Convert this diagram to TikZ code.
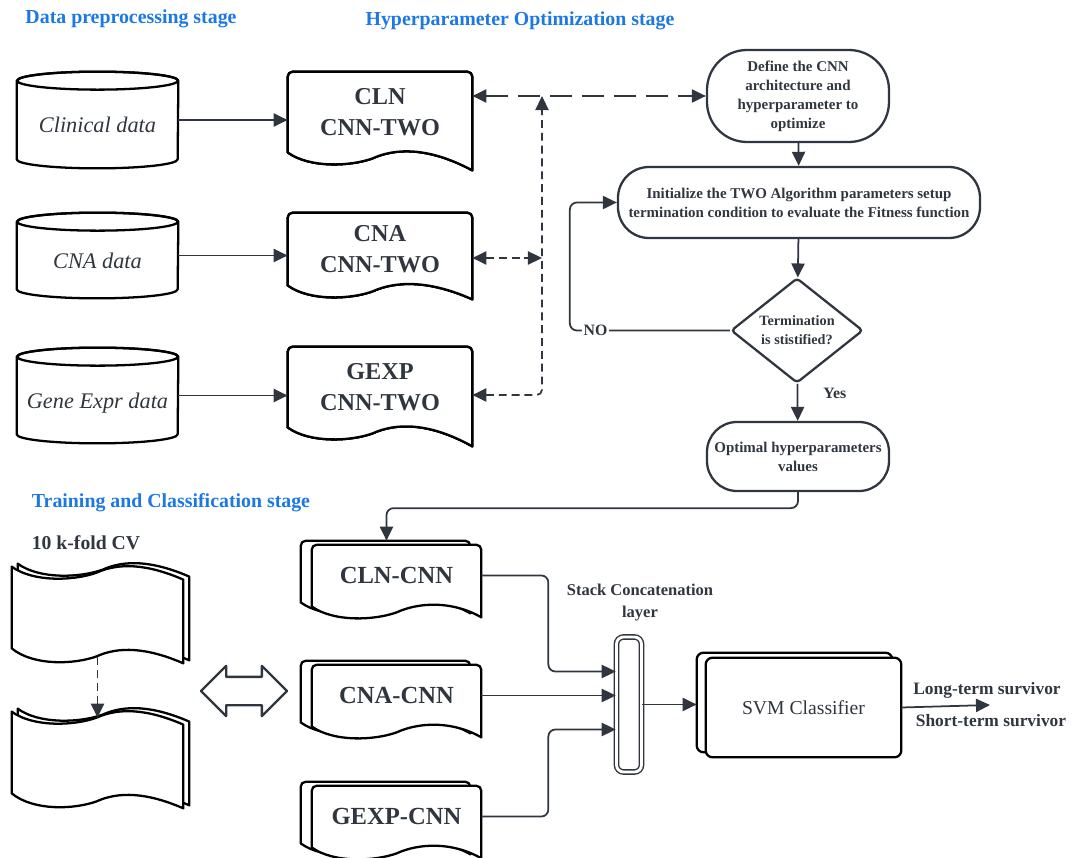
\documentclass[tikz,border=0pt]{standalone}
\usepackage{fontspec}
\setmainfont{Liberation Serif}
\usetikzlibrary{positioning,calc,shapes.geometric,shapes.arrows,arrows.meta}

\definecolor{inkgray}{RGB}{48,54,63}
\definecolor{stageblue}{RGB}{28,120,228}

\newcommand{\pxu}{0.02cm}
\newcommand{\fs}[2]{\fontsize{#1}{#2}\selectfont}

\pgfdeclarelayer{background}
\pgfsetlayers{background,main}

\tikzstyle{stage} = [text=stageblue, font=\fs{11.3}{13}\bfseries, inner sep=0pt]
\tikzstyle{drumbox} = [minimum width=161*\pxu, inner sep=0pt, text height=0.52cm, text depth=0pt, font=\fs{12.7}{15}\itshape]
\tikzstyle{paper} = [minimum width=184*\pxu, inner sep=0pt, align=center, font=\fs{13.8}{17.6}\bfseries]
\tikzstyle{paperstack} = [minimum width=169*\pxu, minimum height=61*\pxu, inner sep=0pt, font=\fs{14}{17}\bfseries]
\tikzstyle{foldsheet} = [minimum width=171*\pxu, minimum height=81*\pxu, inner sep=0pt]
\tikzstyle{terminal} = [draw, line width=1.3pt, rounded corners=#1, inner sep=0pt, align=center, font=\fs{8.5}{10.8}\bfseries]
\tikzstyle{decision} = [draw, diamond, line width=1.3pt, rounded corners=2pt, aspect=1.26, minimum width=132*\pxu, minimum height=105*\pxu, inner sep=0pt, align=center, font=\fs{8.1}{10.8}\bfseries]
\tikzstyle{shapeline} = [line width=1.3pt, fill=white, line join=round]
\tikzstyle{flow} = [line width=1pt, -{Triangle[length=8pt,width=7.5pt]}]
\tikzstyle{dashflow} = [line width=1pt, {Triangle[length=8pt,width=7.5pt]}-{Triangle[length=8pt,width=7.5pt]}, dash pattern=on 4.5pt off 2.8pt]
\tikzstyle{smalllabel} = [inner sep=0pt, font=\fs{9.9}{12}\bfseries]

% cylinder drawn round a node
\newcommand{\drum}[1]{%
  \draw[shapeline] ($(#1.north west)+(0,9)$) -- ($(#1.south west)+(0,-9)$)
    arc[start angle=180, end angle=360, x radius=80.5*\pxu, y radius=9*\pxu]
    -- ($(#1.north east)+(0,9)$)
    arc[start angle=0, end angle=180, x radius=80.5*\pxu, y radius=9*\pxu] -- cycle;
  \draw[shapeline, fill=none] ($(#1.north)+(0,9)$) ellipse[x radius=80.5*\pxu, y radius=9*\pxu];
}
% document with wavy bottom edge
\newcommand{\paperpath}[2]{(#1.south west) [rounded corners=3pt] -- (#1.north west) -- (#1.north east) [sharp corners] -- ($(#1.south east)+(0,#2)$)
    .. controls ($(#1.south west)+(140,-6)$) and ($(#1.south west)+(107,-4)$) .. ($(#1.south west)+(85,6)$)
    .. controls ($(#1.south west)+(63,14)$) and ($(#1.south west)+(22,16)$) .. (#1.south west) -- cycle}
% folded sheet with wavy top and bottom
\newcommand{\tapepath}[1]{(#1.north west)
    .. controls ($(#1.north west)+(22,16)$) and ($(#1.north west)+(63,14)$) .. ($(#1.north west)+(85,6)$)
    .. controls ($(#1.north west)+(107,-4)$) and ($(#1.north west)+(135,-3)$) .. ($(#1.north east)+(0,13)$)
    -- ($(#1.south east)+(0,15)$)
    .. controls ($(#1.south west)+(135,-1)$) and ($(#1.south west)+(107,-2)$) .. ($(#1.south west)+(85,8)$)
    .. controls ($(#1.south west)+(63,16)$) and ($(#1.south west)+(22,18)$) .. (#1.south west) -- cycle}

\begin{document}
\begin{tikzpicture}[x=\pxu, y=-\pxu, color=inkgray]
    \useasboundingbox (0,0) rectangle (1073,858);

    % stage titles
    \node[stage] (prep) at (131,19) {Data preprocessing stage};
    \node[stage] (hyper) at (520,21) {Hyperparameter Optimization stage};
    \node[stage] (train) at (171,503) {Training and Classification stage};
    \node[inner sep=0pt, font=\fs{11.2}{13}\bfseries] (kfold) at (86,543) {10 k-fold CV};

    % data sources and their CNN-TWO models
    \foreach \name/\ypos/\hgt/\label in {clin/120/96/Clinical data, cna/255.5/85/CNA data, gexp/395.5/95/Gene Expr data}
        \node[drumbox, minimum height=\hgt*\pxu] (\name) at (97.5,\ypos) {\label};
    \foreach \name/\ypos/\hgt/\first in {cln2/112/80/CLN, cna2/249/72/CNA, gexp2/387/80/GEXP}
        \node[paper, minimum height=\hgt*\pxu] (\name) at (380,\ypos) {\first\\CNN-TWO};

    % optimization loop
    \node[terminal=0.8cm, minimum width=182*\pxu, minimum height=92*\pxu] (define) at (798,96) {Define the CNN\\architecture and\\hyperparameter to\\optimize};
    \node[terminal=0.62cm, minimum width=362*\pxu, minimum height=71*\pxu] (init) at (799,202.5) {Initialize the TWO Algorithm parameters setup\\termination condition to evaluate the Fitness function};
    \node[decision] (decide) at (797,330.5) {Termination\\is stistified?};
    \node[terminal=0.6cm, minimum width=182*\pxu, minimum height=69*\pxu] (opt) at (798,456.5) {Optimal hyperparameters\\values};

    % training part
    \node[foldsheet] (fold1) at (97.5,607.5) {};
    \node[foldsheet] (fold2) at (97.5,752.5) {};
    \node[draw, double arrow, line width=1.3pt, line join=round, minimum height=86*\pxu, inner xsep=0pt, inner ysep=13*\pxu,
          double arrow head extend=11*\pxu, double arrow head indent=0pt] (swap) at (244,691) {};
    \foreach \name/\ypos/\label in {cln3/575.5/CLN-CNN, cna3/695.5/CNA-CNN, gexp3/816.5/GEXP-CNN}
        \node[paperstack] (\name) at (396.5,\ypos) {\label};
    \node[draw, double, double distance=1.6pt, line width=0.8pt, rounded corners=4pt, minimum width=25*\pxu, minimum height=135*\pxu, inner sep=0pt] (bar) at (629,704.5) {};
    \node[inner sep=0pt, align=center, font=\fs{9.4}{12.5}\bfseries] (stacklab) at (640,603) {Stack Concatenation\\layer};
    \node[minimum width=195*\pxu, minimum height=99*\pxu, inner sep=0pt, font=\fs{11.2}{13}] (svm) at (803.5,707.5) {SVM Classifier};
    \coordinate (outcome) at (990,705);
    \node[smalllabel] (longlab) at (987,690) {Long-term survivor};
    \node[smalllabel] (shortlab) at (991,721) {Short-term survivor};

    % outlines behind the texts
    \begin{pgfonlayer}{background}
        \foreach \name in {clin,cna,gexp}
            \drum{\name}
        \foreach \name/\depth in {cln2/18, cna2/14, gexp2/19}
            \draw[shapeline] \paperpath{\name}{\depth};
        \foreach \name in {cln3,cna3,gexp3} {
            \draw[shapeline, transform canvas={xshift=-11*\pxu, yshift=4*\pxu}] \paperpath{\name}{11};
            \draw[shapeline] \paperpath{\name}{11};
        }
        \foreach \name in {fold1,fold2} {
            \draw[shapeline, transform canvas={xshift=6*\pxu, yshift=3*\pxu}] \tapepath{\name};
            \draw[shapeline] \tapepath{\name};
        }
        \draw[shapeline, rounded corners=4pt, transform canvas={xshift=-9*\pxu, yshift=5*\pxu}] (svm.south west) rectangle (svm.north east);
        \draw[shapeline, rounded corners=4pt] (svm.south west) rectangle (svm.north east);
    \end{pgfonlayer}

    % data into models
    \foreach \src/\dest in {clin/cln2, cna/cna2, gexp/gexp2}
        \draw[flow] (\src.east) -- (\src.east -| \dest.west);

    % models to optimizer
    \coordinate (hub) at (542,96);
    \draw[dashflow, dash pattern=on 12.5pt off 5.7pt] (define.west -| cln2.east) -- (define.west);
    \draw[dashflow, rounded corners=3pt] ($(gexp2.east)+(0,8)$) -| (hub);
    \draw[dashflow] ($(cna2.east)+(0,9)$) -- ($(cna2.east -| hub)+(0,9)$);

    % flow of the optimization
    \draw[flow] (define) -- (init);
    \draw[flow] (init) -- (decide);
    \draw[flow] (decide) -- node[pos=0.26, anchor=west, xshift=0.5cm, inner sep=0pt, font=\fs{9}{11}\bfseries] (yeslab) {Yes} (opt);
    \draw[flow, rounded corners=4pt] (decide.west) -- node[pos=0.84, fill=white, inner sep=1pt, font=\fs{9}{11}\bfseries] (nolab) {NO} ($(decide.west)+(-160,0)$) |- (init.west);
    \draw[flow, rounded corners=4pt] (opt.south) -- ++(0,16) -| ($(cln3.north)+(-10,-4)$);

    % training and classification
    \draw[dashflow, {}-{Triangle[length=8pt,width=7.5pt]}] ($(fold1.south)+(0,9)$) -- ($(fold2.north)+(0,6)$);
    \draw[flow, rounded corners=4pt] (cln3.east) -- ++(67,0) |- ($(bar.west)+(0,-33)$);
    \draw[flow] (cna3.east) -- (cna3.east -| bar.west);
    \draw[flow, rounded corners=4pt] (gexp3.east) -- ++(67,0) |- ($(bar.west)+(0,25)$);
    \draw[flow] (bar.east) -- ($(bar.east -| svm.west)+(-9,0)$);
    \draw[flow] (svm.east) -- (outcome);
\end{tikzpicture}
\end{document}
